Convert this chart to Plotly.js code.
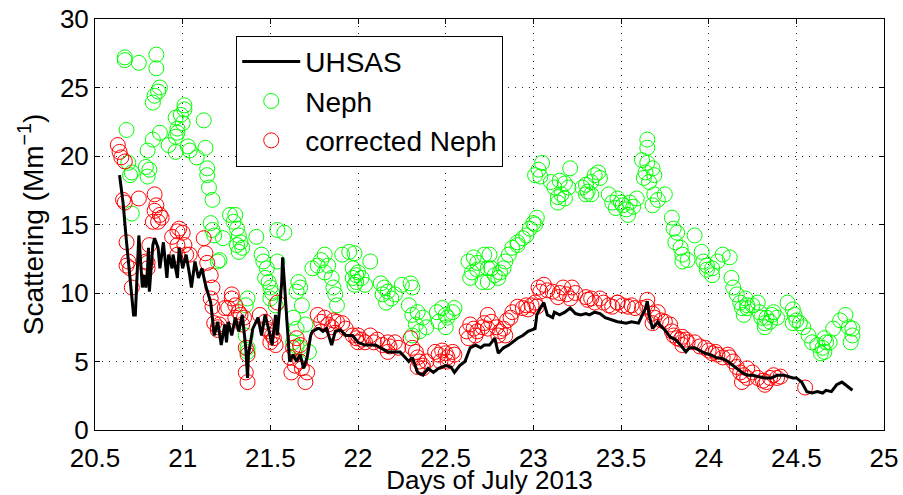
<!DOCTYPE html>
<html>
<head>
<meta charset="utf-8">
<script src="https://cdn.plot.ly/plotly-3.0.1.min.js"></script>
<style>html,body{margin:0;padding:0;background:#fff;}#chart{width:903px;height:495px;}</style>
</head>
<body>
<div id="chart"></div>
<script>
// UHSAS (black line)
const uhsasX = [20.64,20.66,20.68,20.70,20.71,20.72,20.73,20.74,20.75,20.755,20.77,20.78,20.79,20.80,20.805,20.81,20.83,20.84,20.86,20.87,20.89,20.91,20.92,20.94,20.945,20.97,20.98,21.00,21.02,21.04,21.05,21.07,21.09,21.11,21.13,21.16,21.17,21.18,21.20,21.22,21.24,21.25,21.26,21.28,21.30,21.32,21.34,21.36,21.37,21.375,21.40,21.41,21.43,21.45,21.47,21.49,21.51,21.53,21.54,21.565,21.57,21.58,21.60,21.61,21.63,21.65,21.67,21.69,21.71,21.73,21.74,21.77,21.78,21.80,21.82,21.85,21.87,21.90,21.93,21.97,22.00,22.04,22.10,22.17,22.21,22.24,22.29,22.31,22.34,22.37,22.40,22.43,22.46,22.50,22.53,22.55,22.58,22.61,22.64,22.67,22.70,22.72,22.75,22.78,22.80,22.83,22.86,22.88,22.91,22.94,22.97,23.01,23.02,23.04,23.06,23.08,23.11,23.12,23.15,23.18,23.21,23.24,23.27,23.30,23.32,23.35,23.38,23.41,23.45,23.48,23.53,23.56,23.60,23.64,23.65,23.66,23.68,23.71,23.72,23.75,23.78,23.81,23.84,23.87,23.89,23.92,23.95,23.98,24.01,24.04,24.08,24.11,24.15,24.19,24.22,24.25,24.28,24.32,24.36,24.39,24.43,24.48,24.50,24.53,24.56,24.59,24.62,24.65,24.67,24.70,24.73,24.76,24.78,24.80,24.82];
const uhsasY = [18.6,16.6,13.7,11.3,9.6,8.4,8.4,10.8,14.2,13.3,10.4,11.3,10.4,11.8,13.3,10.1,13.5,14.0,13.3,11.8,13.7,11.1,12.8,11.8,12.8,11.1,13.3,11.8,12.8,11.3,10.4,12.3,11.1,11.8,10.6,9.3,7.9,6.9,7.9,6.2,7.7,6.4,7.9,6.9,8.2,7.2,8.4,6.0,3.8,5.5,7.4,7.7,8.2,6.9,8.4,7.4,6.2,8.4,6.9,10.8,12.6,10.8,6.9,5.0,5.5,5.0,5.5,4.5,5.3,6.9,7.2,7.4,7.4,7.2,7.4,6.2,7.2,7.3,6.9,6.9,6.4,6.2,6.2,5.7,5.7,5.7,5.0,5.3,4.2,4.0,4.5,4.2,4.5,4.7,4.6,4.2,4.7,5.0,6.0,6.2,6.0,6.2,6.2,6.7,5.6,6.0,6.2,6.4,6.7,6.9,7.2,7.4,8.4,8.9,9.3,8.4,8.2,8.6,8.4,8.6,8.9,8.5,8.4,8.5,8.4,8.6,8.5,8.2,8.0,7.9,7.8,7.9,7.8,8.9,9.4,8.4,7.4,7.9,7.7,7.3,6.8,6.6,6.2,5.7,6.0,6.0,5.8,5.6,5.5,5.3,5.2,5.0,4.6,4.2,4.0,4.0,3.9,3.8,3.8,4.0,4.0,3.8,3.8,3.5,2.8,2.7,2.8,2.7,2.9,2.8,3.3,3.5,3.3,3.1,2.9];

// Neph (green circles)
const nephX = [20.67,20.67,20.75,20.85,20.85,20.87,20.86,20.84,20.83,20.68,21.01,21.01,20.99,20.96,21.00,20.97,20.97,20.96,21.12,20.87,20.83,20.80,20.92,20.96,21.03,21.04,21.08,21.13,20.69,20.70,20.71,20.79,20.80,20.81,21.14,21.14,21.15,21.17,20.71,21.16,21.17,21.18,21.23,21.20,21.21,21.27,
21.30,21.29,21.31,21.32,21.33,21.31,21.34,21.32,21.42,21.54,21.58,21.45,21.46,21.48,21.47,21.49,21.50,21.51,21.50,21.53,21.54,21.37,21.36,21.36,21.37,21.37,21.66,21.65,21.67,21.68,21.63,21.65,21.63,21.65,21.67,21.72,21.70,21.74,21.77,21.79,21.81,21.83,21.81,21.85,21.86,21.87,21.88,21.91,21.95,21.97,21.99,21.97,21.98,
21.98,22.00,21.99,22.02,22.04,22.07,22.13,22.15,22.14,22.17,22.19,22.16,22.21,22.25,22.30,22.31,22.29,22.31,22.34,22.37,22.33,22.35,22.39,22.31,22.45,22.48,22.50,22.51,22.54,22.55,22.46,22.50,22.63,22.66,22.68,22.65,22.68,22.64,22.71,22.74,22.72,
22.75,22.76,22.74,22.78,22.81,22.80,22.83,22.84,22.86,22.88,22.91,22.91,22.94,22.96,22.98,23.00,23.02,23.01,23.05,23.03,23.04,23.01,23.10,23.12,23.14,23.16,23.18,23.20,23.21,23.15,23.18,23.14,23.28,23.30,23.31,23.33,23.35,23.37,23.38,23.30,23.33,23.43,23.45,23.47,23.48,
23.50,23.51,23.53,23.55,23.57,23.59,23.54,23.65,23.65,23.62,23.65,23.68,23.64,23.63,23.69,23.66,23.69,23.71,23.68,23.75,23.79,23.80,23.82,23.81,23.84,23.85,23.85,23.88,23.92,23.96,23.97,23.99,24.02,24.02,23.99,24.05,24.08,24.12,24.13,24.14,24.16,24.18,24.19,24.20,24.22,
24.21,24.22,24.25,24.28,24.29,24.30,24.32,24.33,24.36,24.37,24.39,24.32,24.35,24.45,24.48,24.49,24.50,24.52,24.54,24.48,24.57,24.59,24.62,24.65,24.66,24.67,24.64,24.69,24.66,24.71,24.75,24.78,24.82,24.82,24.81,24.80];
const nephY = [27.2,27.0,26.8,27.4,26.4,25.0,24.7,24.4,23.9,21.9,23.7,23.4,23.0,22.8,22.4,22.0,21.7,21.4,22.6,21.7,21.2,20.4,20.8,20.3,20.7,20.4,19.9,20.6,19.5,18.6,18.8,19.2,18.5,19.0,19.1,18.6,17.7,16.8,15.8,15.1,14.6,14.2,14.0,12.3,12.4,15.7,
15.7,15.2,14.7,14.2,13.7,13.5,13.3,13.0,14.1,14.6,14.4,12.8,12.3,11.8,11.1,10.8,10.4,10.0,9.6,9.1,12.3,9.6,9.1,6.9,6.0,5.7,10.8,10.1,10.4,9.1,8.2,7.4,6.4,6.1,6.0,5.7,7.7,11.8,12.0,12.4,12.8,12.0,11.5,11.1,10.4,9.9,9.1,12.8,13.0,11.8,11.3,11.1,10.6,
12.9,11.5,10.8,11.1,10.6,12.3,10.7,10.4,9.9,10.1,9.6,9.3,9.9,10.6,10.7,10.4,9.1,8.4,8.6,8.2,7.7,7.2,7.5,6.9,8.6,8.9,8.4,8.2,8.6,8.9,7.9,7.5,12.3,12.6,12.2,11.5,11.7,11.1,10.8,11.8,12.8,
12.8,11.8,10.8,11.3,11.5,11.1,11.8,12.3,12.8,13.3,13.5,13.7,14.0,14.2,14.7,15.1,15.5,15.0,19.5,19.0,18.5,18.6,18.1,17.7,17.0,17.2,18.0,17.7,19.1,18.2,16.9,16.6,17.7,17.9,17.4,18.1,18.6,18.8,18.4,17.2,17.2,17.2,16.6,16.2,16.9,
16.6,16.4,16.1,16.6,16.3,16.9,15.7,21.2,20.6,19.7,19.5,19.1,18.8,18.4,18.6,18.1,17.2,16.8,16.4,17.2,15.5,14.7,14.4,13.7,13.3,12.8,12.3,12.4,14.2,13.0,12.3,12.0,11.8,11.3,11.7,12.3,12.8,12.6,11.1,10.4,9.9,9.3,8.9,8.4,9.1,
9.6,8.9,9.1,9.3,8.6,8.2,7.8,8.2,8.4,8.6,8.2,7.5,7.9,9.3,8.8,8.4,8.0,7.8,7.5,7.8,6.9,6.4,6.2,6.0,5.7,6.4,5.6,6.4,6.7,7.4,8.0,8.4,7.4,6.9,6.4,7.5];

// corrected Neph (red circles)
const corrX = [20.63,20.64,20.65,20.67,20.66,20.67,20.75,20.84,20.85,20.87,20.86,20.83,20.88,20.84,20.68,20.69,20.70,20.68,20.71,20.79,20.80,20.80,20.81,20.94,20.97,20.98,21.00,20.97,21.01,20.97,21.02,21.04,21.12,21.13,21.14,21.16,21.17,21.16,21.17,21.18,21.20,21.21,21.20,21.24,
21.28,21.30,21.26,21.32,21.30,21.33,21.35,21.28,21.34,21.36,21.37,21.36,21.37,21.44,21.47,21.48,21.49,21.51,21.50,21.52,21.54,21.53,21.61,21.64,21.68,21.67,21.71,21.70,21.62,21.63,21.65,21.67,21.77,21.79,21.81,21.83,21.85,21.86,21.88,21.79,21.87,21.91,21.93,21.97,21.99,22.00,
22.00,22.02,22.04,22.07,22.09,22.11,22.14,22.17,22.18,22.21,22.23,22.17,22.30,22.31,22.33,22.34,22.35,22.37,22.37,22.39,22.34,22.44,22.46,22.48,22.50,22.51,22.54,22.55,22.47,22.51,22.62,22.64,22.66,22.67,22.68,22.71,22.72,22.74,22.63,
22.74,22.76,22.79,22.81,22.83,22.85,22.87,22.88,22.91,22.94,22.96,22.97,22.99,23.01,23.02,22.80,22.84,23.03,23.04,23.06,23.08,23.11,23.14,23.15,23.17,23.19,23.22,23.21,23.24,23.30,23.31,23.33,23.35,23.38,23.40,23.43,23.45,23.48,
23.48,23.51,23.54,23.56,23.58,23.62,23.65,23.65,23.68,23.69,23.68,23.71,23.73,23.75,23.78,23.79,23.80,23.82,23.84,23.85,23.87,23.88,23.85,23.92,23.95,23.98,24.00,24.02,24.04,24.05,24.08,24.11,24.12,24.14,24.16,24.18,24.20,24.22,24.19,
24.22,24.25,24.28,24.31,24.33,24.35,24.37,24.39,24.41,24.32,24.55];
const corrY = [20.8,20.3,19.9,19.6,16.8,16.6,16.9,17.2,16.4,15.7,15.2,15.2,15.5,16.0,13.7,12.3,11.8,12.0,10.4,12.3,11.8,12.2,13.5,14.1,14.5,14.7,14.4,13.5,13.5,12.8,12.8,12.8,14.0,12.9,12.2,11.3,10.4,9.6,9.0,7.8,7.5,7.7,7.3,8.9,
9.6,9.1,8.9,8.6,8.2,8.4,8.2,9.9,7.7,6.0,5.5,4.2,3.5,8.4,7.9,7.4,7.2,6.9,6.4,6.7,9.3,6.2,5.3,4.7,4.5,5.0,4.2,3.5,4.2,6.0,6.7,6.2,8.4,7.9,8.2,7.7,7.5,8.0,7.9,7.2,7.1,7.8,7.4,6.9,6.7,6.4,
6.9,6.6,6.4,6.9,6.4,6.6,6.2,6.4,6.1,6.4,6.0,5.7,6.7,6.0,5.7,5.3,5.0,4.7,4.5,5.0,4.6,5.7,5.5,5.8,5.6,5.3,5.7,5.5,5.0,5.0,7.2,7.7,7.4,6.9,7.2,7.5,7.8,7.4,6.7,
8.4,7.9,7.5,7.2,7.4,8.0,8.2,8.6,9.0,8.9,9.1,8.8,9.1,9.3,9.0,6.9,6.9,10.4,10.1,10.6,10.2,10.1,9.7,10.0,10.4,9.9,10.4,9.6,10.0,9.7,9.5,9.6,9.3,9.6,9.3,9.1,9.0,9.3,
9.3,9.1,9.0,9.1,8.9,8.9,9.5,9.0,8.5,8.2,7.8,8.6,8.0,7.9,7.7,7.2,6.9,6.7,6.6,6.8,6.6,6.4,6.2,6.4,6.1,6.0,5.8,5.6,5.7,5.5,5.3,5.5,5.3,5.0,4.6,4.2,4.0,3.8,3.5,
4.5,4.2,3.8,3.6,3.5,3.8,4.0,3.8,3.9,3.3,3.1];

const xTicks = [20.5,21,21.5,22,22.5,23,23.5,24,24.5,25];
const yTicks = [0,5,10,15,20,25,30];

const FONT = 'Liberation Sans, Arial, Helvetica, sans-serif';

const traces = [
  {x: nephX, y: nephY, type: 'scatter', mode: 'markers', name: 'Neph', legendgroup: 'b', legendrank: 2,
   marker: {symbol: 'circle-open', size: 15, color: '#00ff00', line: {width: 1, color: '#00ff00'}}},
  {x: corrX, y: corrY, type: 'scatter', mode: 'markers', name: 'corrected Neph', legendgroup: 'c', legendrank: 3,
   marker: {symbol: 'circle-open', size: 15, color: '#ff0000', line: {width: 1, color: '#ff0000'}}},
  {x: uhsasX, y: uhsasY, type: 'scatter', mode: 'lines', name: 'UHSAS', legendgroup: 'a', legendrank: 1,
   line: {color: '#000000', width: 3}}
];

const axisCommon = {
  showline: true, linecolor: '#000', linewidth: 1, mirror: 'ticks',
  ticks: 'inside', ticklen: 5, tickcolor: '#000', tickwidth: 1,
  showgrid: true, gridcolor: '#222', griddash: '1px,6px', gridwidth: 1,
  zeroline: false, tickfont: {family: FONT, size: 26, color: '#000'}
};

const layout = {
  width: 903, height: 495,
  margin: {l: 95, r: 19, t: 19, b: 65},
  paper_bgcolor: '#fff', plot_bgcolor: '#fff',
  font: {family: FONT, color: '#000'},
  showlegend: true,
  xaxis: Object.assign({}, axisCommon, {
    range: [20.5, 25], tickvals: xTicks, ticktext: xTicks.map(String), ticklabelstandoff: 5,
    title: {text: 'Days of July 2013', font: {family: FONT, size: 26, color: '#000'}, standoff: 4}
  }),
  yaxis: Object.assign({}, axisCommon, {
    range: [0, 30], tickvals: yTicks, ticktext: yTicks.map(String),
    title: {text: 'Scattering (Mm<sup>−1</sup>)', font: {family: FONT, size: 28, color: '#000'}, standoff: 8}
  }),
  legend: {
    x: 0.179, y: 0.959, xanchor: 'left', yanchor: 'top',
    bgcolor: '#fff', bordercolor: '#000', borderwidth: 1,
    font: {family: FONT, size: 28, color: '#000'},
    traceorder: 'grouped', tracegroupgap: 0, itemwidth: 58
  }
};

Plotly.newPlot('chart', traces, layout, {displayModeBar: false, staticPlot: true});
</script>
</body>
</html>
